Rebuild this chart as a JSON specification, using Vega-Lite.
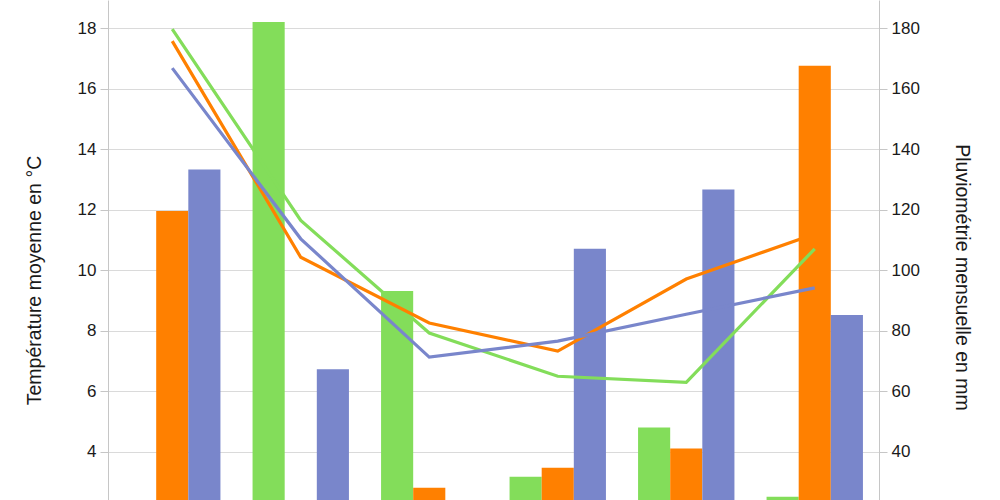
{
  "$schema": "https://vega.github.io/schema/vega-lite/v6.json",
  "autosize": {"type": "none"},
  "padding": {"left": 108, "top": 0, "right": 121, "bottom": 0},
  "width": 771,
  "height": 573,
  "background": "white",
  "config": {
    "view": {"stroke": null},
    "axis": {
      "labelFont": "Liberation Sans",
      "labelFontSize": 17,
      "labelColor": "#1a1a1a",
      "titleFont": "Liberation Sans",
      "titleFontSize": 19.5,
      "titleFontWeight": "normal",
      "titleColor": "#1a1a1a",
      "domainColor": "#c6c6c6",
      "tickColor": "#c6c6c6",
      "gridColor": "#dadada",
      "tickSize": 8,
      "labelPadding": 4
    }
  },
  "datasets": {
    "pluie": [
      {"mois": "Sep", "serie": "2021", "mm": 18},
      {"mois": "Sep", "serie": "2022", "mm": 119.6},
      {"mois": "Sep", "serie": "2023", "mm": 133.3},
      {"mois": "Oct", "serie": "2021", "mm": 182},
      {"mois": "Oct", "serie": "2022", "mm": 12},
      {"mois": "Oct", "serie": "2023", "mm": 67.3},
      {"mois": "Nov", "serie": "2021", "mm": 93.2},
      {"mois": "Nov", "serie": "2022", "mm": 28.2},
      {"mois": "Nov", "serie": "2023", "mm": 15},
      {"mois": "Déc", "serie": "2021", "mm": 31.8},
      {"mois": "Déc", "serie": "2022", "mm": 34.8},
      {"mois": "Déc", "serie": "2023", "mm": 107.1},
      {"mois": "Jan", "serie": "2021", "mm": 48.1},
      {"mois": "Jan", "serie": "2022", "mm": 41.1},
      {"mois": "Jan", "serie": "2023", "mm": 126.7},
      {"mois": "Fév", "serie": "2021", "mm": 25.2},
      {"mois": "Fév", "serie": "2022", "mm": 167.6},
      {"mois": "Fév", "serie": "2023", "mm": 85.2}
    ],
    "temp": [
      {"mois": "Sep", "serie": "2021", "t": 17.97},
      {"mois": "Sep", "serie": "2022", "t": 17.57},
      {"mois": "Sep", "serie": "2023", "t": 16.68},
      {"mois": "Oct", "serie": "2021", "t": 11.65},
      {"mois": "Oct", "serie": "2022", "t": 10.43},
      {"mois": "Oct", "serie": "2023", "t": 11.04},
      {"mois": "Nov", "serie": "2021", "t": 7.93},
      {"mois": "Nov", "serie": "2022", "t": 8.26},
      {"mois": "Nov", "serie": "2023", "t": 7.13},
      {"mois": "Déc", "serie": "2021", "t": 6.5},
      {"mois": "Déc", "serie": "2022", "t": 7.33},
      {"mois": "Déc", "serie": "2023", "t": 7.66},
      {"mois": "Jan", "serie": "2021", "t": 6.3},
      {"mois": "Jan", "serie": "2022", "t": 9.71},
      {"mois": "Jan", "serie": "2023", "t": 8.55},
      {"mois": "Fév", "serie": "2021", "t": 10.71},
      {"mois": "Fév", "serie": "2022", "t": 11.2},
      {"mois": "Fév", "serie": "2023", "t": 9.42}
    ]
  },
  "layer": [
    {
      "data": {"name": "pluie"},
      "mark": {"type": "bar"},
      "encoding": {
        "x": {
          "field": "mois", "type": "nominal",
          "sort": ["Sep", "Oct", "Nov", "Déc", "Jan", "Fév"],
          "scale": {"paddingInner": 0.25, "paddingOuter": 0.125},
          "axis": {"title": null, "labels": false, "ticks": false, "domain": true}
        },
        "xOffset": {
          "field": "serie", "type": "nominal",
          "sort": ["2021", "2022", "2023"],
          "scale": {"paddingInner": 0, "paddingOuter": 0}
        },
        "y": {
          "field": "mm", "type": "quantitative",
          "scale": {"domain": [0, 189.3], "nice": false},
          "axis": {
            "orient": "right",
            "title": "Pluviométrie mensuelle en mm",
            "values": [40, 60, 80, 100, 120, 140, 160, 180],
            "grid": false,
            "titleAngle": 90,
            "titleX": 82,
            "titleY": 277,
            "titleAlign": "center",
            "titleBaseline": "middle"
          }
        },
        "color": {
          "field": "serie", "type": "nominal",
          "scale": {"domain": ["2021", "2022", "2023"], "range": ["#83dd5a", "#ff8000", "#7986cb"]},
          "legend": null
        }
      }
    },
    {
      "data": {"name": "temp"},
      "mark": {"type": "line", "strokeWidth": 3.2},
      "encoding": {
        "x": {
          "field": "mois", "type": "nominal",
          "sort": ["Sep", "Oct", "Nov", "Déc", "Jan", "Fév"]
        },
        "y": {
          "field": "t", "type": "quantitative",
          "scale": {"domain": [0, 18.93], "nice": false},
          "axis": {
            "orient": "left",
            "title": "Température moyenne en °C",
            "values": [4, 6, 8, 10, 12, 14, 16, 18],
            "grid": true,
            "titleAngle": -90,
            "titleX": -74,
            "titleY": 280,
            "titleAlign": "center",
            "titleBaseline": "middle"
          }
        },
        "color": {
          "field": "serie", "type": "nominal",
          "scale": {"domain": ["2021", "2022", "2023"], "range": ["#83dd5a", "#ff8000", "#7986cb"]},
          "legend": null
        }
      }
    }
  ],
  "resolve": {"scale": {"y": "independent"}}
}
